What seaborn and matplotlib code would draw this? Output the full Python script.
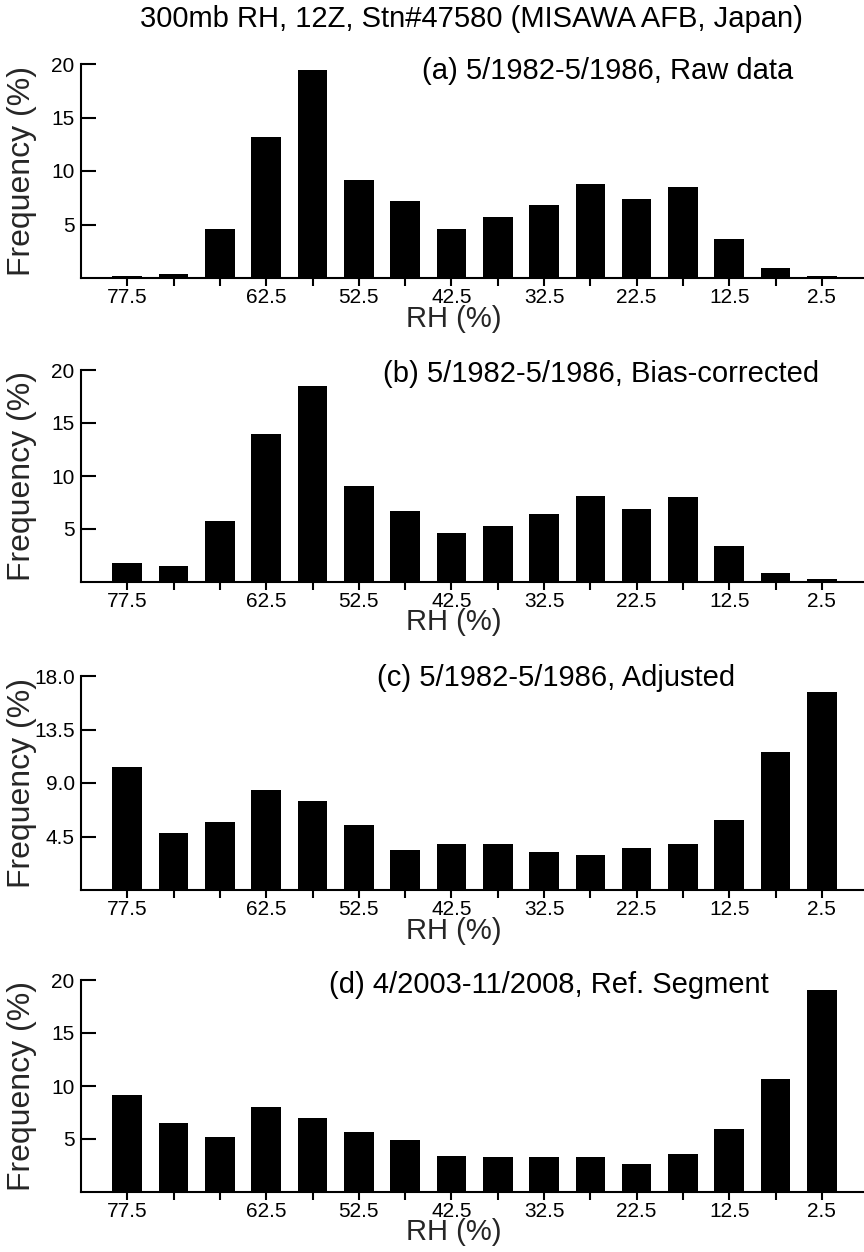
import matplotlib
matplotlib.use("Agg")
import matplotlib.pyplot as plt
import seaborn as sns
import pandas as pd

# ---- data ----
rh_bins = ["77.5", "72.5", "67.5", "62.5", "57.5", "52.5", "47.5", "42.5",
           "37.5", "32.5", "27.5", "22.5", "17.5", "12.5", "7.5", "2.5"]
tick_labels = ["77.5", "", "", "62.5", "", "52.5", "", "42.5",
               "", "32.5", "", "22.5", "", "12.5", "", "2.5"]

freq_raw = [0.22, 0.4, 4.6, 13.2, 19.4, 9.2, 7.2, 4.6,
            5.7, 6.85, 8.75, 7.35, 8.5, 3.6, 0.93, 0.2]
freq_bias = [1.8, 1.5, 5.8, 14.0, 18.5, 9.1, 6.7, 4.65,
             5.3, 6.4, 8.1, 6.85, 8.0, 3.4, 0.85, 0.25]
freq_adj = [10.35, 4.82, 5.75, 8.44, 7.49, 5.44, 3.39, 3.84,
            3.84, 3.22, 2.92, 3.53, 3.84, 5.92, 11.6, 16.68]
freq_ref = [9.18, 6.54, 5.18, 8.03, 6.98, 5.67, 4.87, 3.41,
            3.29, 3.29, 3.29, 2.64, 3.6, 5.92, 10.67, 19.1]

panel_titles = ["(a) 5/1982-5/1986, Raw data",
                "(b) 5/1982-5/1986, Bias-corrected",
                "(c) 5/1982-5/1986, Adjusted",
                "(d) 4/2003-11/2008, Ref. Segment"]
yticks_list = [[5, 10, 15, 20], [5, 10, 15, 20], [4.5, 9.0, 13.5, 18.0], [5, 10, 15, 20]]
ytick_labels_list = [["5", "10", "15", "20"], ["5", "10", "15", "20"],
                     ["4.5", "9.0", "13.5", "18.0"], ["5", "10", "15", "20"]]
ymax_list = [20, 20, 18, 20]
main_title = "300mb RH, 12Z, Stn#47580 (MISAWA AFB, Japan)"

# ---- style ----
sns.set_theme(style="white")
plt.rcParams["font.family"] = ["Liberation Sans", "DejaVu Sans"]
tick_family = ["Liberation Sans Narrow", "Liberation Sans", "DejaVu Sans"]

W, H = 864, 1252
fig = plt.figure(figsize=(W / 100, H / 100), dpi=100)

# axes pixel boxes (top, bottom)
boxes = [(64, 278), (370, 582), (676, 890), (980, 1192)]
label_pos = [(422, 71), (383, 374), (377, 678), (329, 985)]
left_px = 81

series = [freq_raw, freq_bias, freq_adj, freq_ref]

for i, (vals, (top, bot)) in enumerate(zip(series, boxes)):
    ax = fig.add_axes([left_px / W, 1 - bot / H, (W - left_px) / W, (bot - top) / H])
    df = pd.DataFrame({"RH": rh_bins, "Freq": vals})
    sns.barplot(data=df, x="RH", y="Freq", order=rh_bins, color="black",
                saturation=1, width=0.64, linewidth=0, ax=ax)
    ax.set_xlim(-1, 15.91)
    ax.set_ylim(0, ymax_list[i])
    ax.set_xticks(range(len(rh_bins)))
    ax.set_xticklabels(tick_labels, fontsize=15, family=tick_family)
    ax.set_yticks(yticks_list[i])
    ax.set_yticklabels(ytick_labels_list[i], fontsize=15, family=tick_family)
    for s in ["top", "right"]:
        ax.spines[s].set_visible(False)
    for s in ["left", "bottom"]:
        ax.spines[s].set_linewidth(1.5)
        ax.spines[s].set_color("black")
    ax.tick_params(axis="y", direction="in", length=10.8, width=1.5, pad=4.5,
                   colors="black", left=True)
    ax.tick_params(axis="x", direction="out", length=5.5, width=1.5, pad=1.5,
                   colors="black", bottom=True)
    ax.set_xlabel("RH (%)", fontsize=21, labelpad=0)
    ax.xaxis.set_label_coords((454 - left_px) / (W - left_px), -0.125)
    ax.set_ylabel("Frequency (%)", fontsize=23)
    ax.yaxis.label.set_verticalalignment("center")
    ax.yaxis.set_label_coords((22 - left_px) / (W - left_px), 0.5)
    lx, ly = label_pos[i]
    fig.text(lx / W, 1 - ly / H, panel_titles[i], ha="left", va="center",
             fontsize=21, color="black")

fig.text(471 / W, 1 - 19 / H, main_title, ha="center", va="center",
         fontsize=21, color="black")

fig.savefig("out.png", dpi=100, facecolor="white")
